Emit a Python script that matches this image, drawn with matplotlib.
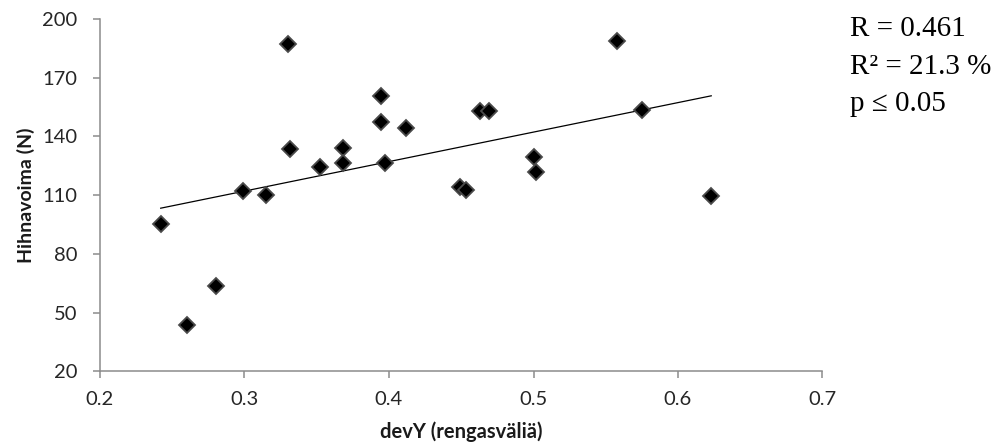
import numpy as np
import matplotlib
matplotlib.use("Agg")
import matplotlib.pyplot as plt

# Measurements: tyre spacing deviation vs. belt force
dev_y = [0.330, 0.3945, 0.3945, 0.412, 0.463, 0.469, 0.3315, 0.368, 0.352,
         0.368, 0.397, 0.449, 0.453, 0.299, 0.315, 0.242, 0.558, 0.575,
         0.500, 0.502, 0.623, 0.280, 0.260]
force = [187.2, 160.8, 147.5, 144.1, 153.1, 153.1, 133.4, 133.9, 124.5,
         126.2, 126.2, 114.0, 112.5, 112.2, 110.0, 95.5, 188.9, 153.5,
         129.6, 121.9, 109.6, 63.6, 43.5]

x_ticks = [0.2, 0.3, 0.4, 0.5, 0.6, 0.7]
y_ticks = [20, 50, 80, 110, 140, 170, 200]
stats_lines = ["R = 0.461", "R\u00b2 = 21.3 %", "p \u2264 0.05"]

x_label = "devY (rengasväliä)"
y_label = "Hihnavoima (N)"

W, H = 999, 447
fig = plt.figure(figsize=(W / 100, H / 100), dpi=100)
ax = fig.add_axes([100 / W, 1 - 371.3 / H, (822.5 - 100) / W, (371.3 - 19) / H])

sans = ["Lato", "DejaVu Sans"]
serif = ["Liberation Serif", "DejaVu Serif"]
axis_grey = "#8c8c8c"

# scatter points
ax.plot(dev_y, force, linestyle="none", marker="D", markersize=7.8,
        markerfacecolor="black", markeredgecolor="#4a4a4a",
        markeredgewidth=1.3, zorder=3)

# least-squares trend line over the data range
xs = np.array(dev_y)
slope, intercept = np.polyfit(xs, np.array(force), 1)
line_x = np.array([xs.min(), xs.max()])
ax.plot(line_x, slope * line_x + intercept, color="black", linewidth=0.9,
        zorder=2)

ax.set_xlim(x_ticks[0], x_ticks[-1])
ax.set_ylim(y_ticks[0], y_ticks[-1])
ax.set_xticks(x_ticks)
ax.set_yticks(y_ticks)
ax.set_xticklabels([f"{v:g}" for v in x_ticks], family=sans, fontsize=14.5,
                   color="#262626")
ax.set_yticklabels([str(v) for v in y_ticks], family=sans, fontsize=14.5,
                   color="#262626")

for side in ("top", "right"):
    ax.spines[side].set_visible(False)
for side in ("left", "bottom"):
    ax.spines[side].set_color(axis_grey)
    ax.spines[side].set_linewidth(1.1)
ax.tick_params(axis="both", direction="out", length=5, width=1.1,
               color=axis_grey)
ax.tick_params(axis="x", pad=9)
ax.tick_params(axis="y", pad=11.5)

ax.set_xlabel(x_label, family=sans, fontsize=14.5, fontweight="bold",
              color="#1a1a1a", labelpad=10)
ax.set_ylabel(y_label, family=sans, fontsize=14, fontweight="bold",
              color="#1a1a1a", labelpad=5)

# correlation statistics
baselines = [36, 74, 111]
for txt, yb in zip(stats_lines, baselines):
    fig.text(850 / W, 1 - yb / H, txt, family=serif, fontsize=21,
             ha="left", va="baseline", color="black")

fig.savefig("out.png", dpi=100)
